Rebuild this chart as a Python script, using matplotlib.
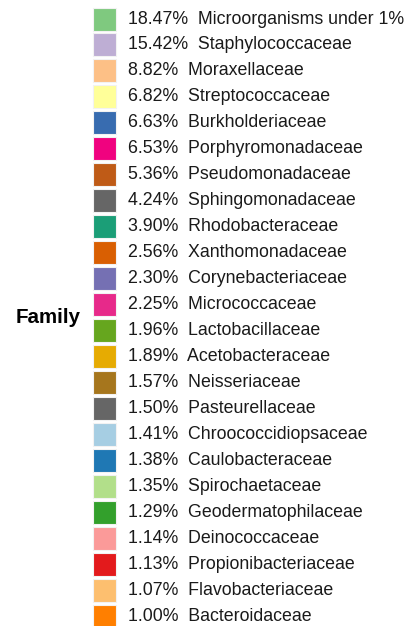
import matplotlib.pyplot as plt
from matplotlib.patches import Rectangle

# legend data: family name, relative abundance (%)
families = ["Microorganisms under 1%", "Staphylococcaceae", "Moraxellaceae",
            "Streptococcaceae", "Burkholderiaceae", "Porphyromonadaceae",
            "Pseudomonadaceae", "Sphingomonadaceae", "Rhodobacteraceae",
            "Xanthomonadaceae", "Corynebacteriaceae", "Micrococcaceae",
            "Lactobacillaceae", "Acetobacteraceae", "Neisseriaceae",
            "Pasteurellaceae", "Chroococcidiopsaceae", "Caulobacteraceae",
            "Spirochaetaceae", "Geodermatophilaceae", "Deinococcaceae",
            "Propionibacteriaceae", "Flavobacteriaceae", "Bacteroidaceae"]
percents = [18.47, 15.42, 8.82, 6.82, 6.63, 6.53, 5.36, 4.24, 3.90, 2.56,
            2.30, 2.25, 1.96, 1.89, 1.57, 1.50, 1.41, 1.38, 1.35, 1.29,
            1.14, 1.13, 1.07, 1.00]
colors = ["#7fc97f", "#beaed4", "#fdc086", "#ffff99", "#386cb0", "#f0027f",
          "#bf5b17", "#666666", "#1b9e77", "#d95f02", "#7570b3", "#e7298a",
          "#66a61e", "#e6ab02", "#a6761d", "#666666", "#a6cee3", "#1f78b4",
          "#b2df8a", "#33a02c", "#fb9a99", "#e31a1c", "#fdbf6f", "#ff7f00"]

plt.rcParams['font.family'] = ['Liberation Sans', 'DejaVu Sans']

fig = plt.figure(figsize=(4.10, 6.26), dpi=100)
ax = fig.add_axes([0, 0, 1, 1])
ax.set_xlim(0, 410)
ax.set_ylim(626, 0)
ax.axis('off')

y0 = 19
step = 25.96
key = 23
for i, (name, pct, col) in enumerate(zip(families, percents, colors)):
    y = y0 + i * step
    ax.add_patch(Rectangle((93.5, y - key / 2), key, key, facecolor=col,
                           edgecolor='#f2f2f2', linewidth=0.8))
    ax.text(128, y, f"{pct:.2f}%  {name}", fontsize=12.8, color='#1a1a1a',
            va='center', ha='left')

mid = y0 + (len(families) - 1) * step / 2
ax.text(16, mid, "Family", fontsize=14.8, fontweight='bold', va='center',
        ha='left', color='black')

fig.savefig("out.png", dpi=100)
